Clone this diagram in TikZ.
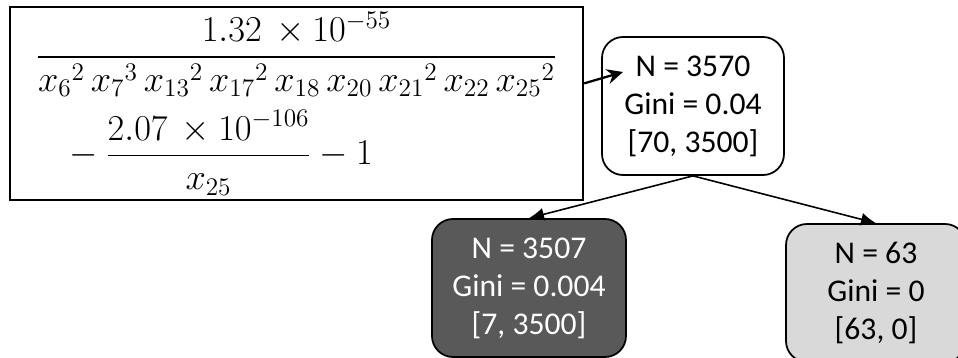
\documentclass[tikz,border=0pt]{standalone}
\usepackage{amsmath}
\usepackage{fontspec}
\setsansfont{Carlito}
\usetikzlibrary{arrows.meta}

\begin{document}
\begin{tikzpicture}[
        % --- Node styles ---
        formulabox/.style={
            draw, line width=1.3pt, minimum width=11.46cm, minimum height=3.86cm,
            align=left, inner sep=0pt, font=\fontsize{22}{26.5}\selectfont
        },
        treenode/.style={
            draw, line width=1pt, rounded corners=0.42cm, minimum height=2.76cm,
            align=center, inner sep=2pt, font=\sffamily\fontsize{18}{21.6}\selectfont
        },
        darknode/.style={treenode, fill=black!65, text=white},
        lightnode/.style={treenode, fill=black!15},
        % --- Connector styles ---
        feed/.style={line width=1.3pt, -{Stealth[length=3.2mm, width=3mm]}},
        branch/.style={line width=0.9pt, -{Latex[length=3mm, width=2.6mm]}},
    ]

    % ===== Frame (958 x 358 px, 1 px = 0.02 cm) =====
    \clip (0,0) rectangle (19.16,-7.16);

    % ===== Split expression =====
    \node[formulabox] (formula) at (5.93,-2.07) {%
        $\displaystyle \frac{1.32\,\times 10^{-55}}{{x_{6}}^{2}\,{x_{7}}^{3}\,{x_{13}}^{2}\,{x_{17}}^{2}\,x_{18}\,x_{20}\,{x_{21}}^{2}\,x_{22}\,{x_{25}}^{2}}$\\[7pt]%
        \hspace*{0.5cm}$\displaystyle {}- \frac{2.07\,\times 10^{-106}}{x_{25}} - 1$};

    % ===== Tree nodes =====
    \node[treenode, minimum width=3.64cm] (root) at (13.86,-2.12) {N = 3570\\Gini = 0.04\\{[70, 3500]}};
    \node[darknode, minimum width=3.88cm] (left) at (10.58,-5.76) {N = 3507\\Gini = 0.004\\{[7, 3500]}};
    \node[lightnode, minimum width=3.6cm] (right) at (17.52,-5.86) {N = 63\\Gini = 0\\{[63, 0]}};

    % ===== Connectors =====
    \coordinate (tip) at (12.46,-1.44);
    \draw[feed] (formula.4.1) -- (tip);
    \draw[branch] (root.south) -- (left.north);
    \draw[branch] (root.south) -- (right.north);

\end{tikzpicture}
\end{document}
